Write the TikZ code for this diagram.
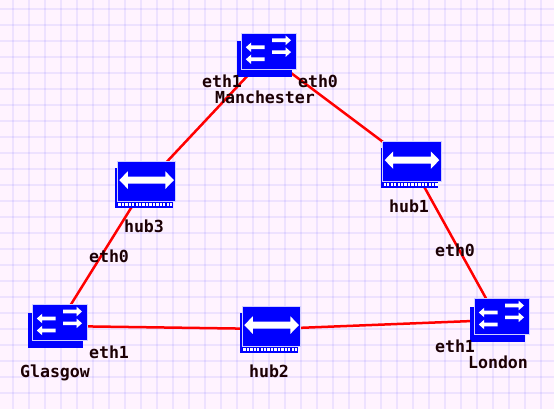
\documentclass[tikz,border=0pt]{standalone}
\usepackage{fontspec}
\setmonofont{DejaVu Sans Mono}[BoldFont={DejaVu Sans Mono Bold}]
\definecolor{pagebg}{HTML}{FFF3FF}
\definecolor{iconblue}{HTML}{0000FF}
\definecolor{iconedge}{HTML}{D0D0FF}
\definecolor{labelink}{HTML}{1C0004}
\tikzset{
  gridline/.style={draw=blue,opacity=0.065,line width=2pt},
  link/.style={draw=red,line width=2.5pt},
  anchorbox/.style={inner sep=0pt,minimum width=60pt,minimum height=46pt},
  plate/.style={fill=iconblue},
  faceplate/.style={fill=iconblue,draw=iconedge,line width=0.7pt},
  glyph/.style={fill=white},
  tag/.style={anchor=base,inner sep=0pt,text=labelink,font=\ttfamily\bfseries\fontsize{16.6}{18}\selectfont}
}
\newcommand{\switchicon}[2]{%
  \begin{scope}[shift={(#1,#2)}]
    \path[plate] (-4.4,8) rectangle (51,43.4);
    \path[faceplate] (0,0) rectangle (55.6,36);
    \foreach \yy in {6.8,18.6}{
      \path[glyph] (31,\yy-1.8) -- (44.6,\yy-1.8) -- (44.6,\yy-4.8) -- (50,\yy) -- (44.6,\yy+4.8) -- (44.6,\yy+1.8) -- (31,\yy+1.8) -- cycle;
    }
    \foreach \yy in {13.8,25.8}{
      \path[glyph] (23.6,\yy-1.8) -- (10.2,\yy-1.8) -- (10.2,\yy-4.8) -- (4.8,\yy) -- (10.2,\yy+4.8) -- (10.2,\yy+1.8) -- (23.6,\yy+1.8) -- cycle;
    }
  \end{scope}}
\newcommand{\hubicon}[2]{%
  \begin{scope}[shift={(#1,#2)}]
    \path[plate] (-2,6) rectangle (55.6,46);
    \path[faceplate] (0,0) rectangle (58.4,40);
    \path[plate] (-2,40.6) rectangle (55.6,46);
    \foreach \ii in {0,...,15}{
      \path[glyph] (1+\ii*3.45,41.6) rectangle (3.3+\ii*3.45,44);
    }
    \path[glyph] (2,18.4) -- (10.5,9.6) -- (10.5,14.8) -- (48.1,14.8) -- (48.1,9.6) -- (56.6,18.4) -- (48.1,27.2) -- (48.1,22) -- (10.5,22) -- (10.5,27.2) -- cycle;
  \end{scope}}
\begin{document}
\begin{tikzpicture}[x=1pt,y=-1pt]
\useasboundingbox (0,0) rectangle (554,409);
\fill[pagebg] (0,0) rectangle (554,409);
\foreach \gx in {13,29,...,541}{\path[gridline] (\gx,0) -- (\gx,409);}
\foreach \gy in {8.7,24.7,...,408}{\path[gridline] (0,\gy) -- (554,\gy);}
% anchors of the devices
\node[anchorbox] (manchester) at (267,55) {};
\node[anchorbox] (hubone) at (411,163) {};
\node[anchorbox] (hubthree) at (146,184) {};
\node[anchorbox] (hubtwo) at (271,329) {};
\node[anchorbox] (glasgow) at (57.5,326) {};
\node[anchorbox] (london) at (498,320) {};
% links
\draw[link] (manchester.center) -- (hubthree.center);
\draw[link] (manchester.center) -- (hubone.center);
\draw[link] (hubthree.center) -- (glasgow.center);
\draw[link] (hubone.center) -- (london.center);
\draw[link] (glasgow.center) -- (hubtwo.center);
\draw[link] (hubtwo.center) -- (london.center);
% icons
\switchicon{241}{33.5}
\switchicon{32}{304.7}
\switchicon{474}{298.7}
\hubicon{117.3}{161.7}
\hubicon{382.7}{141.7}
\hubicon{242.3}{306.7}
% labels
\node[tag] (manchesterlabel) at (265,103.6) {Manchester};
\node[tag] (manchestereth1) at (222,87.4) {eth1};
\node[tag] (manchestereth0) at (318,87.4) {eth0};
\node[tag] (hub3label) at (144,232.4) {hub3};
\node[tag] (hub1label) at (409,212.4) {hub1};
\node[tag] (hub2label) at (269,377.4) {hub2};
\node[tag] (glasgowlabel) at (55,377.4) {Glasgow};
\node[tag] (londonlabel) at (498,368.4) {London};
\node[tag] (glasgoweth0) at (109,262.4) {eth0};
\node[tag] (glasgoweth1) at (109,358.4) {eth1};
\node[tag] (londoneth0) at (455,256.4) {eth0};
\node[tag] (londoneth1) at (455,352.4) {eth1};
\end{tikzpicture}
\end{document}
